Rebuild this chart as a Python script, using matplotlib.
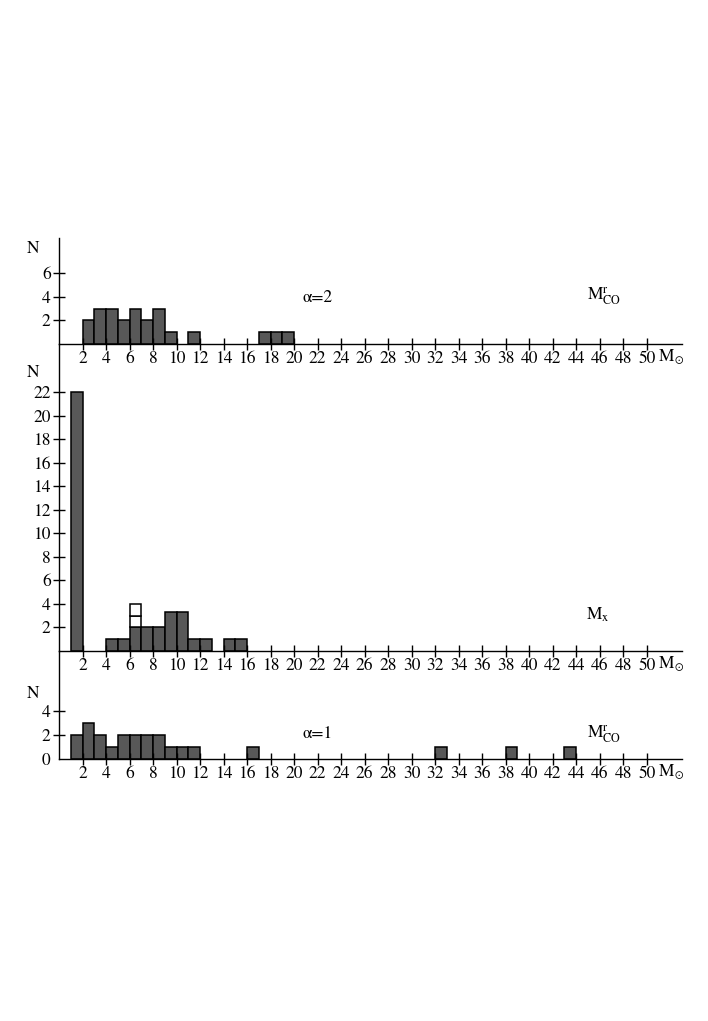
import matplotlib
matplotlib.use("Agg")
import matplotlib.pyplot as plt

# ---------------- data ----------------
x_ticks = list(range(2, 51, 2))

top_bins = [2, 3, 4, 5, 6, 7, 8, 9, 11, 17, 18, 19]
top_counts = [2, 3, 3, 2, 3, 2, 3, 1, 1, 1, 1, 1]
top_yticks = [2, 4, 6]

mid_bins = [1, 4, 5, 6, 7, 8, 9, 10, 11, 12, 14, 15]
mid_counts = [22, 1, 1, 2, 2, 2, 3.3, 3.3, 1, 1, 1, 1]
mid_white_bins = [6]
mid_white_counts = [2]
mid_yticks = [2, 4, 6, 8, 10, 12, 14, 16, 18, 20, 22]

bot_bins = [1, 2, 3, 4, 5, 6, 7, 8, 9, 10, 11, 16, 32, 38, 43]
bot_counts = [2, 3, 2, 1, 2, 2, 2, 2, 1, 1, 1, 1, 1, 1, 1]
bot_yticks = [0, 2, 4]

plt.rcParams['font.family'] = ['STIXGeneral', 'DejaVu Serif']
plt.rcParams['mathtext.fontset'] = 'stix'

W, H = 708, 1021
fig = plt.figure(figsize=(W / 100, H / 100), dpi=100)

def fx(px):
    return px / W

def fy(py):
    return 1 - py / H

X0, X1 = 59, 682
XMAX = 53.0
DARK = '#585858'
FS = 12.5

def make_ax(top_px, bot_px, ymax):
    ax = fig.add_axes([fx(X0), fy(bot_px), fx(X1) - fx(X0), (bot_px - top_px) / H])
    ax.set_xlim(0, XMAX)
    ax.set_ylim(0, ymax)
    for s in ['top', 'right']:
        ax.spines[s].set_visible(False)
    for s in ['left', 'bottom']:
        ax.spines[s].set_linewidth(1.0)
    ax.set_xticks(x_ticks)
    ax.tick_params(axis='both', direction='inout', length=8, width=1.0,
                   labelsize=FS, pad=1)
    ax.tick_params(axis='y', pad=2)
    ax.patch.set_alpha(0)
    return ax

# top panel
ax1 = make_ax(238, 344, 9.0)
ax1.bar(top_bins, top_counts, width=1, align='edge', color=DARK,
        edgecolor='black', linewidth=1.1)
ax1.set_yticks(top_yticks)

# middle panel
ax2 = make_ax(344, 651, 26.1)
ax2.bar(mid_bins, mid_counts, width=1, align='edge', color=DARK,
        edgecolor='black', linewidth=1.1)
for b, c in zip(mid_white_bins, mid_white_counts):
    base = mid_counts[mid_bins.index(b)]
    for k in range(c):
        ax2.bar([b], [1], bottom=[base + k], width=1, align='edge',
                color='white', edgecolor='black', linewidth=1.1)
ax2.set_yticks(mid_yticks)

# bottom panel
ax3 = make_ax(651, 759, 9.0)
ax3.bar(bot_bins, bot_counts, width=1, align='edge', color=DARK,
        edgecolor='black', linewidth=1.1)
ax3.set_yticks(bot_yticks)
ax3.yaxis.get_major_ticks()[0].tick1line.set_visible(False)

# axis unit labels
for py in [357, 664, 772]:
    fig.text(fx(659), fy(py), 'M', fontsize=FS, ha='left', va='center')
    fig.text(fx(673.5), fy(py + 3), r'$\odot$', fontsize=FS * 0.65,
             ha='left', va='center')
for py in [249, 373, 694]:
    fig.text(fx(33), fy(py), 'N', fontsize=FS, ha='center', va='center')

# annotations
fig.text(fx(318), fy(298), 'α=2', fontsize=FS, ha='center', va='center')
fig.text(fx(318), fy(734), 'α=1', fontsize=FS, ha='center', va='center')
fig.text(fx(604), fy(296), r'$\mathrm{M}_{\mathrm{CO}}^{\mathrm{r}}$', fontsize=FS,
         ha='center', va='center')
fig.text(fx(604), fy(734), r'$\mathrm{M}_{\mathrm{CO}}^{\mathrm{r}}$', fontsize=FS,
         ha='center', va='center')
fig.text(fx(598), fy(615), r'$\mathrm{M}_{\mathrm{x}}$', fontsize=FS,
         ha='center', va='center')

fig.savefig('out.png', dpi=100, facecolor='white')
